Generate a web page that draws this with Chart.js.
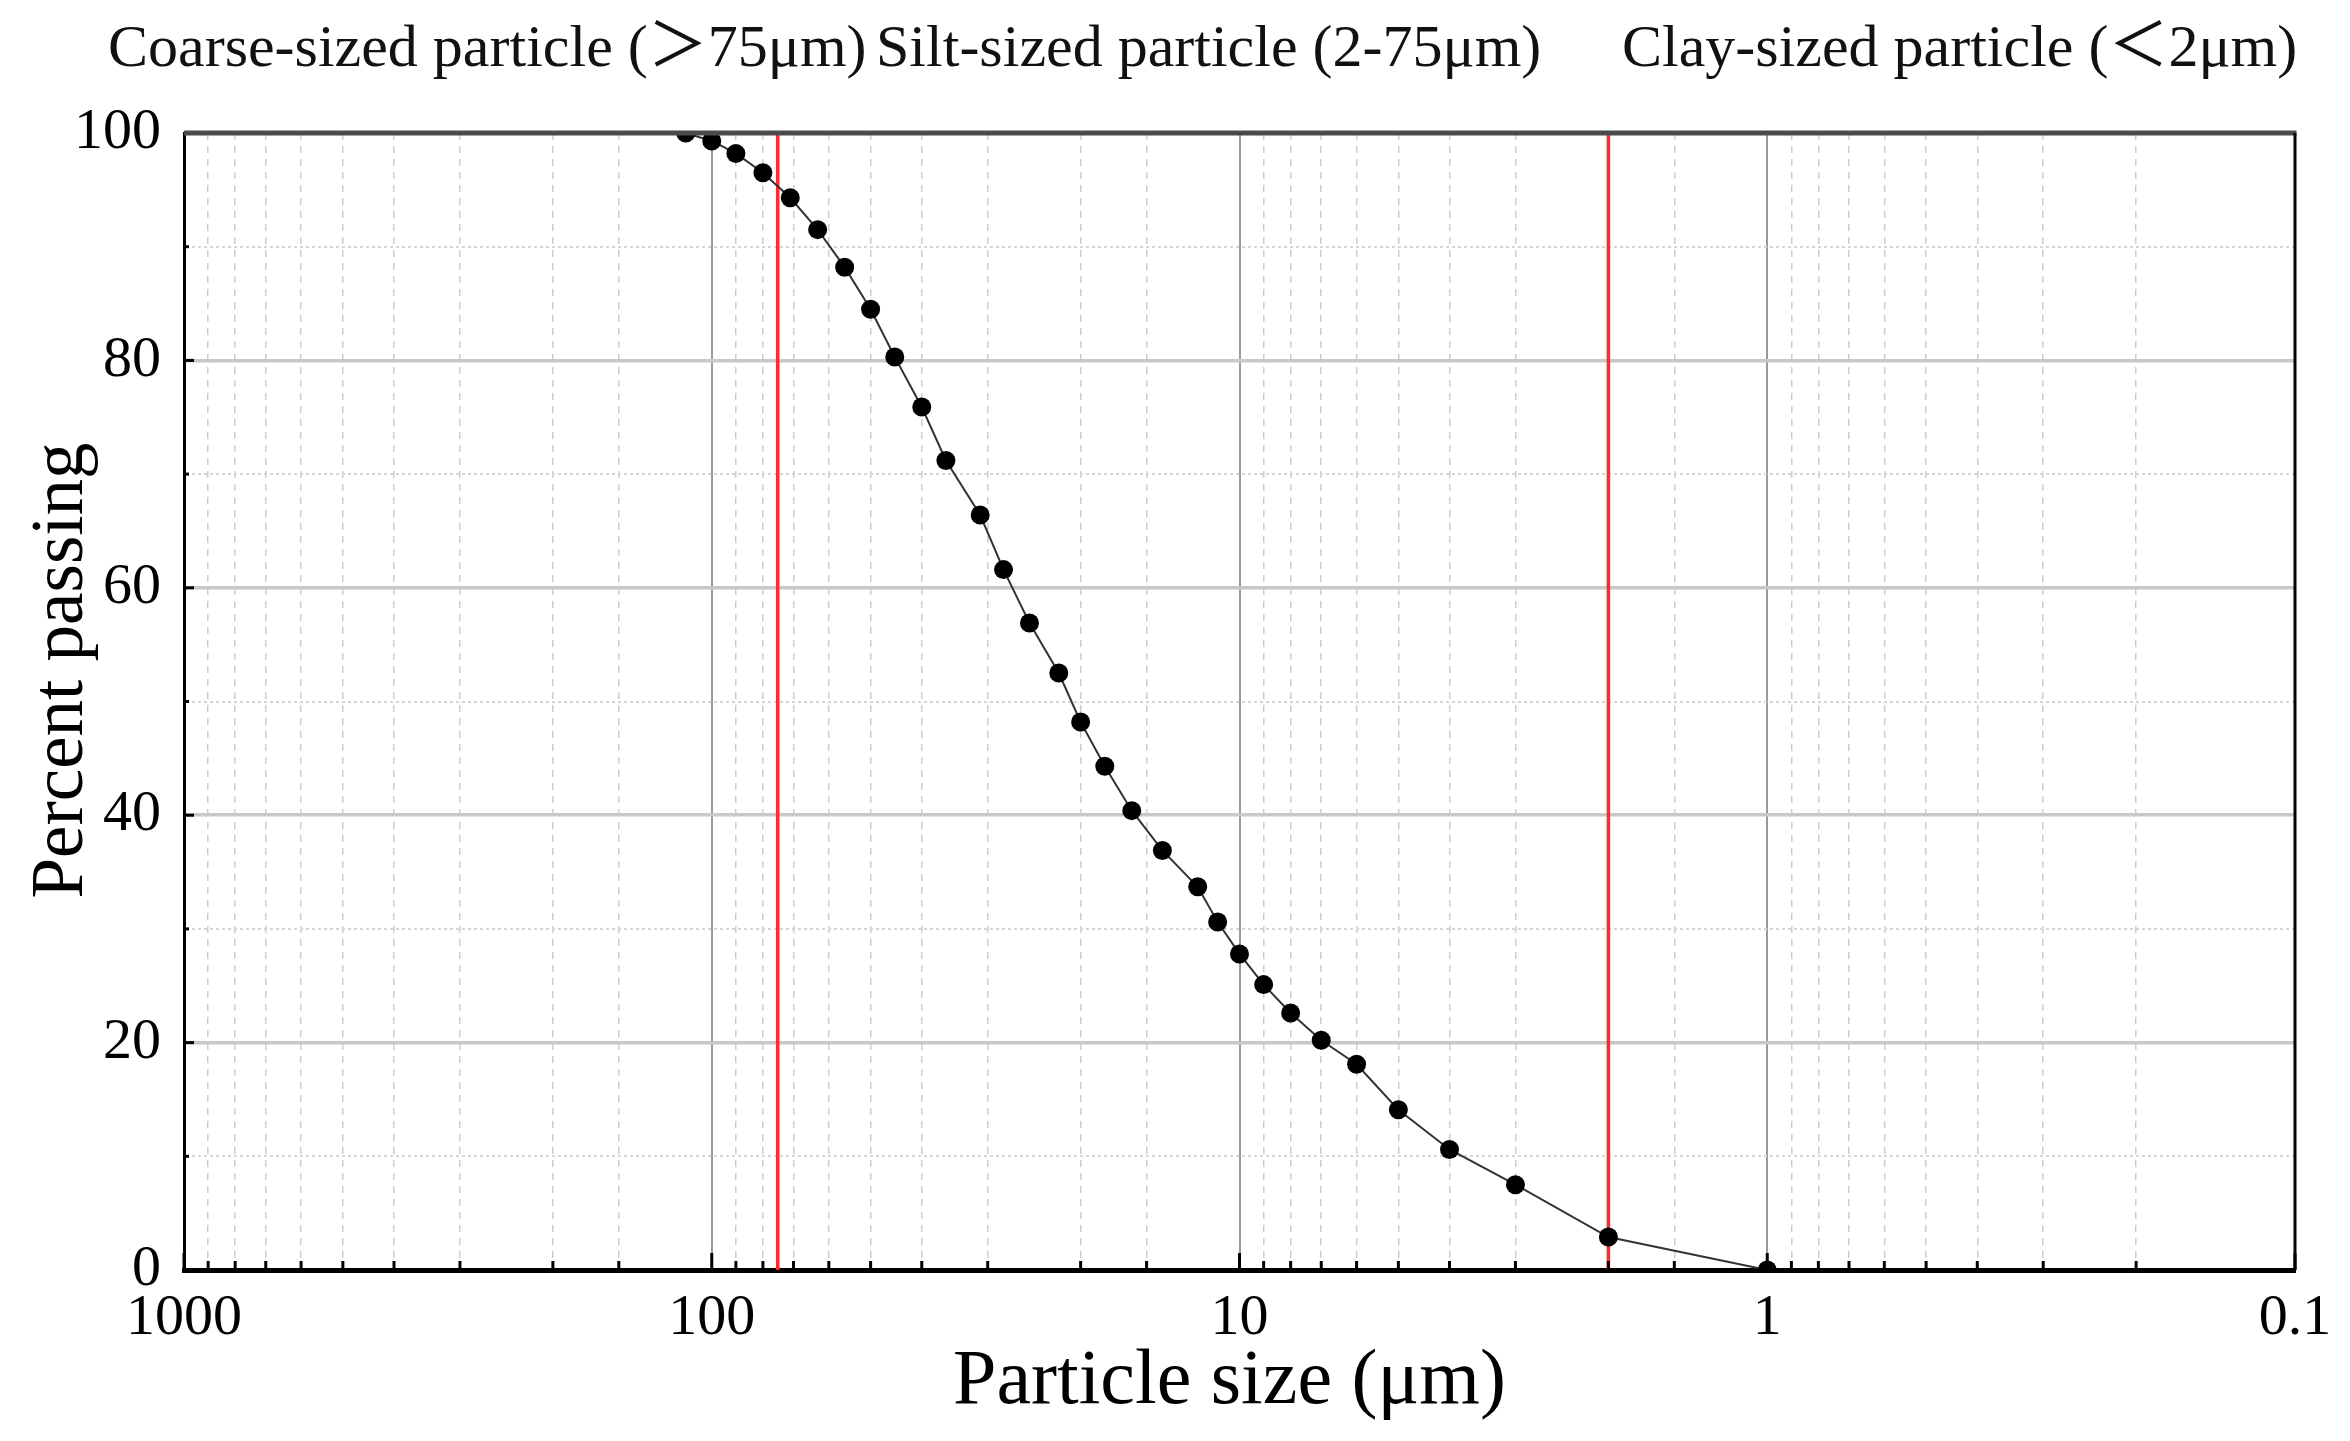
<!DOCTYPE html>
<html>
<head>
<meta charset="utf-8">
<title>Particle size distribution</title>
<script src="https://cdn.jsdelivr.net/npm/chart.js@4.4.1/dist/chart.umd.min.js"></script>
<style>
  html, body { margin: 0; padding: 0; background: #fff; }
  #wrap { width: 2350px; height: 1441px; position: relative; }
</style>
</head>
<body>
<div id="wrap"><canvas id="psd"></canvas></div>
<script>
// ---------- Data ----------
const particleSize = [112, 100, 90, 80, 71, 63, 56, 50, 45, 40, 36, 31, 28, 25, 22, 20, 18, 16, 14, 12, 11, 10, 9, 8, 7, 6, 5, 4, 3, 2, 1];
const percentPassing = [100, 99.3, 98.2, 96.5, 94.3, 91.5, 88.2, 84.5, 80.3, 75.9, 71.2, 66.4, 61.6, 56.9, 52.5, 48.2, 44.3, 40.4, 36.9, 33.7, 30.6, 27.8, 25.1, 22.6, 20.2, 18.1, 14.1, 10.6, 7.5, 2.9, 0];
const boundaries = [75, 2];               // class limits in µm (red lines)
const xTickLabels = [1000, 100, 10, 1, 0.1];
const yTickLabels = [0, 20, 40, 60, 80, 100];
const classLabels = ['Coarse-sized particle (＞75μm)', 'Silt-sized particle (2-75μm)', 'Clay-sized particle (＜2μm)'];
const xTitle = 'Particle size (μm)';
const yTitle = 'Percent passing';

const SERIF = '"Liberation Serif", "Times New Roman", "Noto Sans CJK SC", serif';

// ---------- Helpers ----------
function isDecade(v) {
  const l = Math.log10(v);
  return Math.abs(l - Math.round(l)) < 1e-6;
}
function xLabelFor(v) {
  const hit = xTickLabels.find(t => Math.abs(Math.log10(t) - Math.log10(v)) < 1e-6);
  return hit === undefined ? '' : String(hit);
}
function line(ctx, x1, y1, x2, y2) {
  ctx.beginPath();
  ctx.moveTo(x1, y1);
  ctx.lineTo(x2, y2);
  ctx.stroke();
}

// ---------- Plugins ----------
// red boundary lines, under the data
const boundaryLines = {
  id: 'boundaryLines',
  beforeDatasetsDraw(chart) {
    const {ctx, chartArea: a, scales: {x}} = chart;
    ctx.save();
    ctx.strokeStyle = '#ff2b2b';
    ctx.lineWidth = 3.5;
    boundaries.forEach(b => {
      const px = x.getPixelForValue(b);
      line(ctx, px, a.top, px, a.bottom);
    });
    ctx.restore();
  }
};

// inward ticks + top/right frame
const frameAndTicks = {
  id: 'frameAndTicks',
  afterDatasetsDraw(chart) {
    const {ctx, chartArea: a, scales: {x, y}} = chart;
    ctx.save();
    ctx.strokeStyle = '#000';
    ctx.lineWidth = 3;
    x.ticks.forEach(t => {
      const px = x.getPixelForValue(t.value);
      line(ctx, px, a.bottom, px, a.bottom - (isDecade(t.value) ? 17 : 9));
    });
    y.ticks.forEach(t => {
      const py = y.getPixelForValue(t.value);
      line(ctx, a.left, py, a.left + (t.value % 20 === 0 ? 10 : 5), py);
    });
    ctx.strokeStyle = '#4a4a4a';
    ctx.lineWidth = 5;
    line(ctx, a.left, a.top, a.right + 1.5, a.top);
    ctx.strokeStyle = '#000';
    ctx.lineWidth = 3;
    line(ctx, a.right, a.top, a.right, a.bottom);
    ctx.restore();
  }
};

// class names above the plot + axis titles (both sit slightly off centre in the original)
const headerAndTitles = {
  id: 'headerAndTitles',
  afterDraw(chart) {
    const {ctx, chartArea: a} = chart;
    const xs = [108, 876, 1622];
    ctx.save();
    ctx.fillStyle = '#111';
    ctx.font = '60px ' + SERIF;
    ctx.textAlign = 'left';
    ctx.textBaseline = 'alphabetic';
    classLabels.forEach((t, i) => ctx.fillText(t, xs[i], 66));

    ctx.fillStyle = '#000';
    ctx.font = '78px ' + SERIF;
    ctx.textAlign = 'center';
    ctx.textBaseline = 'middle';
    ctx.fillText(xTitle, (a.left + a.right) / 2 - 10, a.bottom + 113);

    ctx.font = '73px ' + SERIF;
    ctx.translate(63, (a.top + a.bottom) / 2 - 31);
    ctx.rotate(-Math.PI / 2);
    ctx.fillText(yTitle, 0, 0);
    ctx.restore();
  }
};

// ---------- Chart ----------
Chart.defaults.font.family = SERIF;
Chart.defaults.color = '#000';

const points = particleSize.map((s, i) => ({x: s, y: percentPassing[i]}));

new Chart(document.getElementById('psd'), {
  type: 'line',
  data: {
    datasets: [{
      label: 'Percent passing',
      data: points,
      borderColor: '#333',
      borderWidth: 2,
      pointBackgroundColor: '#000',
      pointBorderColor: '#000',
      pointRadius: 9.5,
      pointBorderWidth: 0,
      tension: 0,
      fill: false
    }]
  },
  options: {
    responsive: true,
    maintainAspectRatio: false,
    devicePixelRatio: 1,
    animation: false,
    layout: { padding: { top: 133, right: 55, left: 0, bottom: 0 } },
    plugins: { legend: { display: false }, tooltip: { enabled: false } },
    scales: {
      x: {
        type: 'logarithmic',
        min: 0.1,
        max: 1000,
        reverse: true,
        afterFit: s => { s.height = 171; },
        grid: {
          drawTicks: false,
          color: c => c.tick && isDecade(c.tick.value) ? '#9a9a9a' : '#cdcdcd',
          lineWidth: c => c.tick && isDecade(c.tick.value) ? 2 : 1.5
        },
        border: {
          color: '#000',
          width: 5,
          dash: c => (c.tick && !isDecade(c.tick.value)) ? [7, 6] : []
        },
        ticks: {
          autoSkip: false,
          maxRotation: 0,
          padding: 14,
          font: { size: 58 },
          callback: v => xLabelFor(v)
        },
        title: { display: false }
      },
      y: {
        min: 0,
        max: 100,
        afterFit: s => { s.width = 184; },
        grid: {
          drawTicks: false,
          color: c => c.tick && c.tick.value % 20 === 0 ? '#c8c8c8' : '#d6d6d6',
          lineWidth: c => c.tick && c.tick.value % 20 === 0 ? 3.5 : 2
        },
        border: {
          color: '#000',
          width: 3,
          dash: c => (c.tick && c.tick.value % 20 !== 0) ? [3, 3] : []
        },
        ticks: {
          stepSize: 10,
          padding: 23,
          font: { size: 58 },
          callback: v => yTickLabels.includes(v) ? String(v) : ''
        },
        title: { display: false }
      }
    }
  },
  plugins: [boundaryLines, frameAndTicks, headerAndTitles]
});
</script>
</body>
</html>
